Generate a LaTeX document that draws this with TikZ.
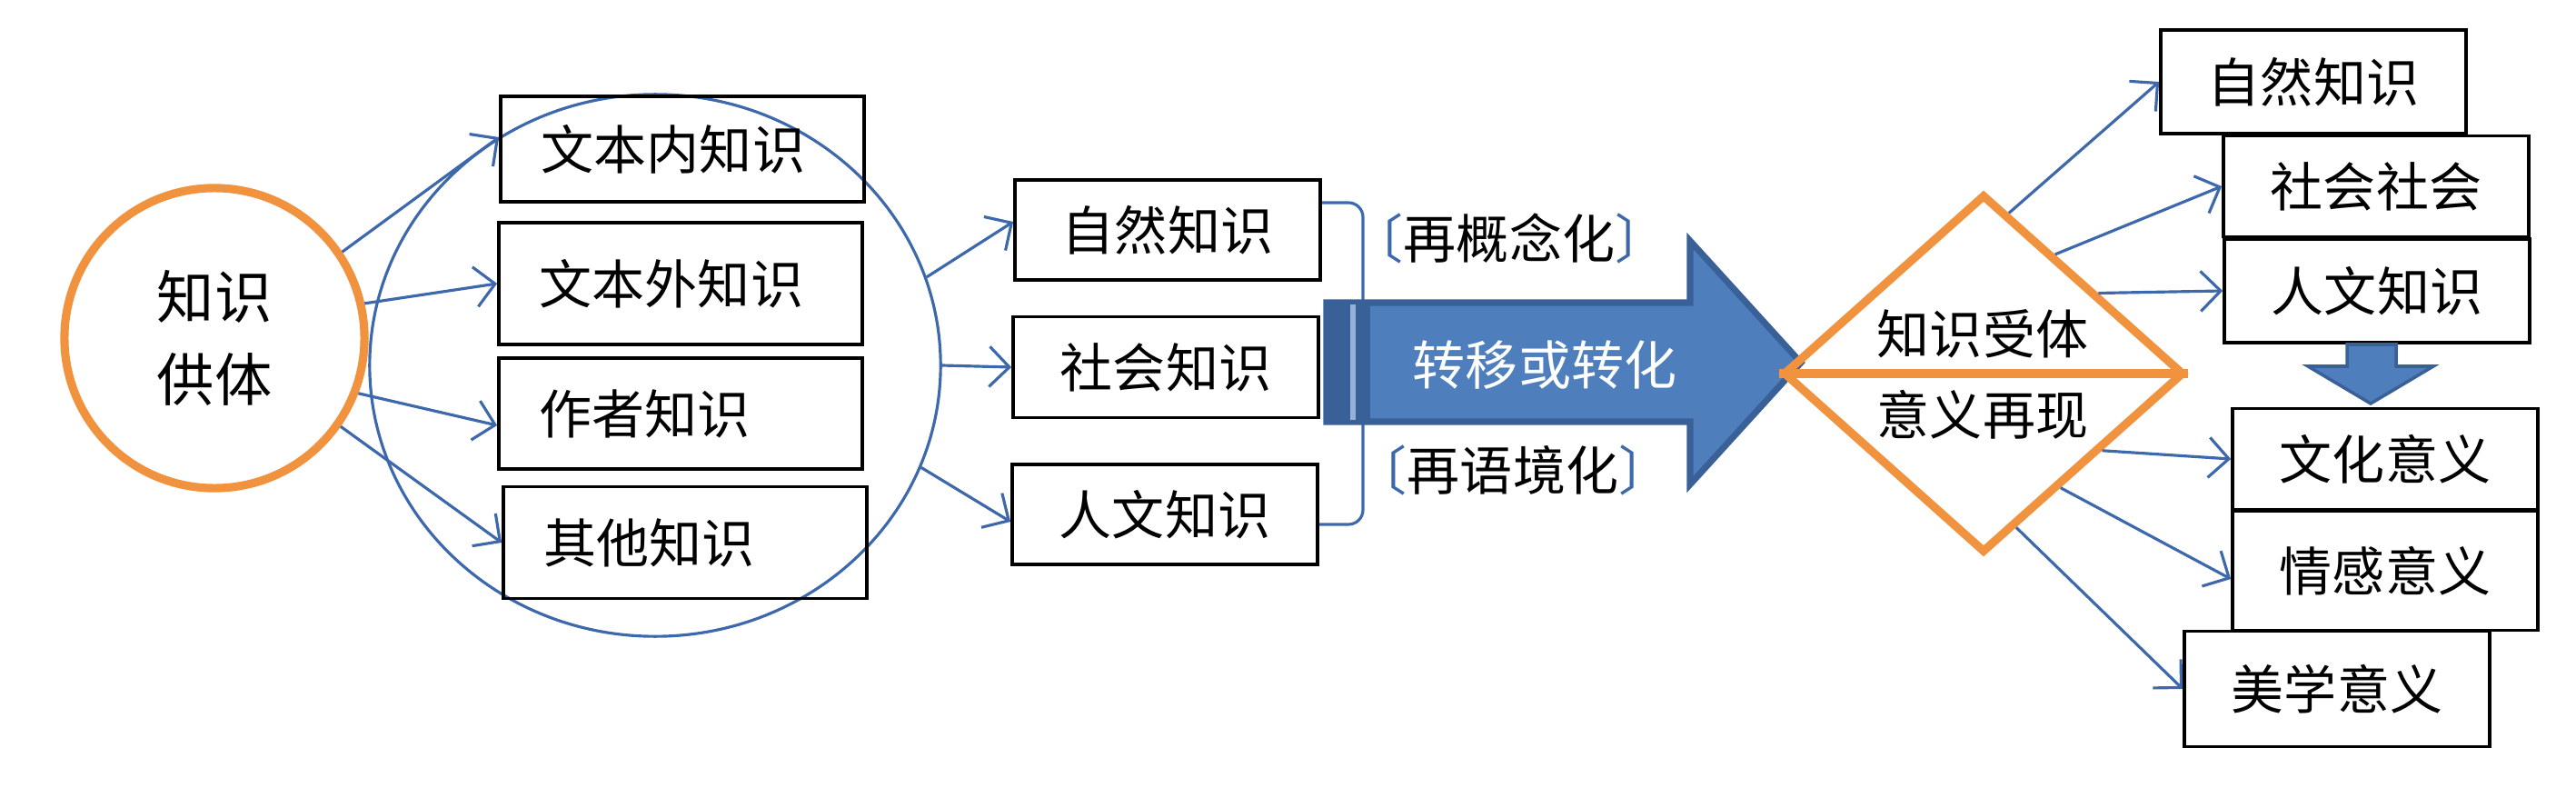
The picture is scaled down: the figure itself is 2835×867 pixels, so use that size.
\documentclass[tikz,border=0pt]{standalone}
\usepackage{fontspec}
\setmainfont{Noto Sans CJK SC}
\usetikzlibrary{shapes.geometric,arrows.meta}
\definecolor{lineblue}{RGB}{62,104,172}
\definecolor{ringorange}{RGB}{240,146,62}
\definecolor{arrowfill}{RGB}{79,126,188}
\definecolor{arrowdark}{RGB}{58,96,152}

\begin{document}
\begin{tikzpicture}[x=0.01cm,y=-0.01cm]
\tikzstyle{kbox}=[rectangle,draw=black,line width=1pt,text width=3.1cm,align=left,inner xsep=0.45cm,inner ysep=0pt,font=\fontsize{16.5pt}{20pt}\selectfont]
\tikzstyle{cbox}=[rectangle,draw=black,line width=1pt,minimum width=3.36cm,inner sep=0pt,font=\fontsize{16.5pt}{20pt}\selectfont]
\tikzstyle{word}=[inner sep=0pt,font=\fontsize{16.5pt}{20pt}\selectfont]
\tikzstyle{flow}=[draw=lineblue,line width=0.9pt,-{Straight Barb[length=0.22cm,width=0.44cm]}]
\useasboundingbox (0,0) rectangle (2835,867);
\node [circle,draw=ringorange,line width=2.6pt,minimum size=3.3cm,align=center,font=\fontsize{18pt}{26pt}\selectfont] (src) at (236,372) {知识\\供体};
\node [ellipse,draw=lineblue,line width=0.9pt,minimum width=6.28cm,minimum height=5.96cm] (grp) at (721,402) {};
\node [kbox,minimum height=1.16cm] (k1) at (751,164) {文本内知识};
\node [kbox,minimum height=1.34cm] (k2) at (749,312) {文本外知识};
\node [kbox,minimum height=1.22cm] (k3) at (749,455) {作者知识};
\node [kbox,minimum height=1.23cm] (k4) at (754,597) {其他知识};
\draw [flow] (src.34) -- ([yshift=0.13cm]k1.west);
\draw [flow] (src.13) -- (k2.west);
\draw [flow] (src.-21) -- ([yshift=-0.13cm]k3.west);
\draw [flow] (src.-35) -- (k4.west);
\node [cbox,minimum height=1.10cm] (m1) at (1285,253) {自然知识};
\node [cbox,minimum height=1.11cm] (m2) at (1283,404) {社会知识};
\node [cbox,minimum height=1.10cm] (m3) at (1282,566) {人文知识};
\draw [flow] (grp.18) -- ([yshift=0.09cm]m1.west);
\draw [flow] (grp.0) -- (m2.west);
\draw [flow] (grp.-21) -- ([yshift=-0.08cm]m3.west);
\coordinate (brk) at (1500,400);
\draw [lineblue,line width=0.9pt,rounded corners=0.16cm] ([yshift=0.3cm]m1.east) -| (brk) |- ([yshift=-0.11cm]m3.east);
\fill [arrowfill,draw=arrowdark,line width=2pt] (1460,333) -- (1860,333) -- (1860,265) -- (1982,399) -- (1860,533) -- (1860,464) -- (1460,464) -- cycle;
\fill [arrowdark] (1460,333) rectangle (1508,464);
\draw [arrowfill!60!white,line width=1.5pt] (1489,335) -- (1489,462);
\node [word,text=white] (tr) at (1700,402) {转移或转化};
\node [word] (rc) at (1661,262) {\textcolor{lineblue}{〔}再概念化\textcolor{lineblue}{〕}};
\node [word] (rx) at (1665,517) {\textcolor{lineblue}{〔}再语境化\textcolor{lineblue}{〕}};
\node [diamond,draw=ringorange,line width=2.6pt,minimum width=4.41cm,minimum height=3.94cm,inner sep=0pt] (dia) at (2183,411) {};
\draw [ringorange,line width=2.6pt] (dia.west) -- (dia.east);
\node [word] (d1) at (2182,367) {知识受体};
\node [word] (d2) at (2182,456) {意义再现};
\node [cbox,minimum height=1.14cm] (r1) at (2546,90) {自然知识};
\node [cbox,minimum height=1.11cm] (r2) at (2615,205) {社会社会};
\node [cbox,minimum height=1.14cm] (r3) at (2616,320) {人文知识};
\node [cbox,minimum height=1.11cm] (r4) at (2625,505) {文化意义};
\node [cbox,minimum height=1.31cm] (r5) at (2625,628) {情感意义};
\node [cbox,minimum height=1.27cm] (r6) at (2572,758) {美学意义};
\draw [flow] (dia.81) -- (r1.west);
\draw [flow] (dia.59) -- (r2.west);
\draw [flow] (dia.35) -- (r3.west);
\draw [flow] (dia.-33) -- (r4.west);
\draw [flow] (dia.-56) -- ([yshift=-0.09cm]r5.west);
\draw [flow] (dia.-78) -- (r6.west);
\fill [arrowfill,draw=arrowdark,line width=1pt] (2583,379) -- (2637,379) -- (2637,403) -- (2678,403) -- (2609,444) -- (2540,403) -- (2583,403) -- cycle;
\end{tikzpicture}
\end{document}
